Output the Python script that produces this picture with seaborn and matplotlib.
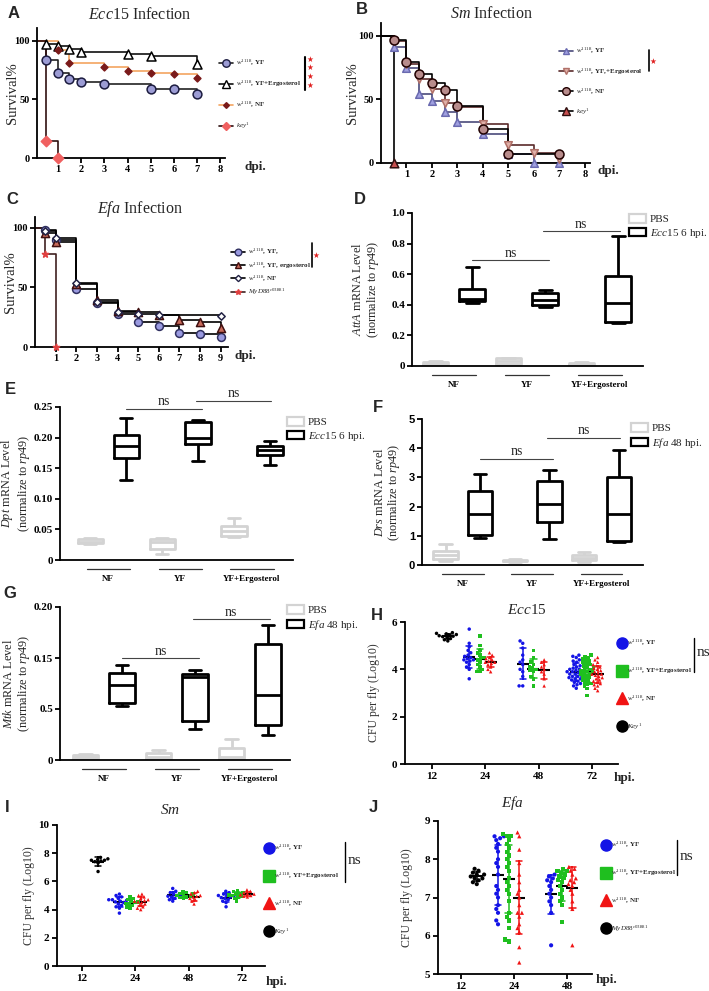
import warnings
import pandas as pd
import matplotlib
matplotlib.use("Agg")
import matplotlib.pyplot as plt
import matplotlib.transforms as mtransforms
from matplotlib.lines import Line2D
from matplotlib.patches import Patch
import seaborn as sns

warnings.filterwarnings("ignore")

# ---------------- survival curves: days post infection, % alive ----------------
A_yf_days = [0, 0.5, 1, 1.5, 2, 3, 5, 6, 7]
A_yf = [100, 84, 72.5, 67.5, 65, 63.5, 59, 58.5, 54.5]
A_yfe_days = [0, 0.5, 1, 1.5, 2, 4, 5, 7]
A_yfe = [100, 97, 95.7, 93, 90.6, 89.2, 87, 80]
A_nf_days = [0, 1, 1.5, 3, 4, 5, 6, 7]
A_nf = [100, 92, 81.5, 78, 74.6, 73, 71.5, 68]
A_key_days = [0, 0.5, 1]
A_key = [100, 14.5, 0]

B_yf_days = [0, 0.5, 1, 1.5, 2, 2.5, 3, 4, 5, 6, 7]
B_yf = [100, 91, 75, 54, 49, 40, 32, 23, 7, 0, 0]
B_yfe_days = [0, 0.5, 1, 1.5, 2, 2.5, 3, 4, 5, 6, 7]
B_yfe = [100, 96, 78, 66, 58, 47, 44, 31, 14, 8, 3]
B_nf_days = [0, 0.5, 1, 1.5, 2, 2.5, 3, 4, 5, 7]
B_nf = [100, 97, 79, 70, 63, 57, 45, 27, 7, 7]
B_key_days = [0, 0.5]
B_key = [100, 0]

C_yf_days = [0, 0.5, 1, 2, 3, 4, 5, 6, 7, 8, 9]
C_yf = [100, 98, 90, 49, 37, 28, 21, 18, 12, 11, 8]
C_yfe_days = [0, 0.5, 1, 2, 3, 4, 5, 6, 7, 8, 9]
C_yfe = [100, 96, 88, 53, 39, 30, 29, 27, 23, 21, 16]
C_nf_days = [0, 0.5, 1, 2, 3, 4, 5, 6, 9]
C_nf = [100, 97, 91, 54, 38, 29, 28, 27, 26]
C_myd_days = [0, 0.5, 1]
C_myd = [100, 78, 0]

# ---------------- qPCR boxes: [min, q1, median, q3, max] per diet ----------------
DIETS = ["NF", "YF", "YF+Ergosterol"]
D_pbs = [[0.0, 0.005, 0.015, 0.025, 0.03], [0.005, 0.01, 0.03, 0.05, 0.055], [0.0, 0.005, 0.01, 0.02, 0.025]]
D_inf = [[0.415, 0.425, 0.435, 0.505, 0.645], [0.385, 0.40, 0.43, 0.475, 0.495], [0.28, 0.285, 0.415, 0.585, 0.85]]
E_pbs = [[0.026, 0.027, 0.030, 0.034, 0.036], [0.010, 0.018, 0.030, 0.034, 0.036], [0.038, 0.040, 0.048, 0.055, 0.068]]
E_inf = [[0.131, 0.167, 0.187, 0.205, 0.232], [0.162, 0.189, 0.200, 0.225, 0.229], [0.155, 0.172, 0.179, 0.187, 0.194]]
F_pbs = [[0.14, 0.19, 0.33, 0.48, 0.73], [0.10, 0.12, 0.15, 0.18, 0.20], [0.10, 0.16, 0.24, 0.33, 0.44]]
F_inf = [[0.92, 1.03, 1.75, 2.52, 3.10], [0.89, 1.46, 2.10, 2.88, 3.25], [0.78, 0.83, 1.74, 3.02, 3.95]]
G_pbs = [[0.0, 0.001, 0.004, 0.007, 0.008], [0.0, 0.001, 0.004, 0.0095, 0.013], [0.0, 0.001, 0.004, 0.016, 0.027]]
G_inf = [[0.070, 0.074, 0.098, 0.114, 0.124], [0.041, 0.051, 0.108, 0.113, 0.118], [0.033, 0.046, 0.085, 0.152, 0.177]]
G_yticks = [0, 0.0667, 0.1333, 0.20]
G_yticklabels = ["0", "0.5", "0.15", "0.20"]

# ---------------- CFU per fly (log10) ----------------
H_times = ["12", "24", "48", "72"]
H_key = [5.55, 5.52, 5.5, 5.47, 5.45, 5.42, 5.4, 5.38, 5.35, 5.3, 5.25, 5.2]
H_yf = [[5.7, 5.1, 4.95, 4.8, 4.7, 4.6, 4.55, 4.5, 4.45, 4.4, 4.4, 4.35, 4.3, 4.2, 4.1, 4.0, 3.6],
        [5.2, 5.1, 4.9, 4.6, 4.4, 4.3, 4.2, 4.0, 3.9, 3.7, 3.3, 3.3],
        [4.6, 4.55, 4.5, 4.4, 4.35, 4.3, 4.2, 4.15, 4.1, 4.05, 4.0, 4.0, 3.95, 3.9, 3.9, 3.85,
         3.85, 3.8, 3.8, 3.75, 3.7, 3.7, 3.65, 3.6, 3.6, 3.55, 3.5, 3.45, 3.4, 3.35, 3.3, 3.2]]
H_yfe = [[5.4, 5.0, 4.8, 4.7, 4.6, 4.5, 4.45, 4.4, 4.3, 4.2, 4.1, 4.0, 3.9, 3.9],
         [4.8, 4.5, 4.3, 4.2, 4.1, 4.05, 4.0, 3.95, 3.9, 3.7, 3.6, 3.3],
         [4.6, 4.55, 4.5, 4.45, 4.4, 4.35, 4.3, 4.25, 4.2, 4.15, 4.1, 4.05, 4.0, 4.0, 3.95, 3.9,
          3.9, 3.85, 3.8, 3.8, 3.75, 3.7, 3.65, 3.6, 3.55, 3.5, 3.45, 3.4, 3.35, 3.3, 3.2, 2.9]]
H_nf = [[4.7, 4.6, 4.5, 4.45, 4.4, 4.35, 4.3, 4.3, 4.25, 4.2, 4.1, 4.0, 3.9],
        [4.4, 4.3, 4.2, 4.1, 4.0, 3.9, 3.8, 3.6, 3.3],
        [4.5, 4.4, 4.3, 4.2, 4.15, 4.1, 4.05, 4.0, 3.95, 3.9, 3.85, 3.8, 3.8, 3.75, 3.7, 3.65,
         3.6, 3.55, 3.5, 3.45, 3.4, 3.35, 3.3, 3.2, 3.1]]

I_times = ["12", "24", "48", "72"]
I_key = [7.7, 7.6, 7.55, 7.5, 7.5, 7.45, 7.4, 7.3, 6.7]
I_yf = [[5.1, 5.0, 4.9, 4.8, 4.7, 4.7, 4.65, 4.6, 4.55, 4.5, 4.4, 4.3, 4.2, 4.1, 3.75],
        [5.5, 5.3, 5.2, 5.1, 5.05, 5.0, 4.95, 4.9, 4.8, 4.7, 4.6],
        [5.3, 5.2, 5.1, 5.0, 5.0, 4.95, 4.9, 4.85, 4.8, 4.7, 4.6, 4.5, 4.2]]
I_yfe = [[4.9, 4.8, 4.7, 4.6, 4.55, 4.5, 4.45, 4.4, 4.3, 4.2, 4.1],
         [5.3, 5.2, 5.15, 5.1, 5.05, 5.0, 4.95, 4.9, 4.85, 4.8],
         [5.35, 5.3, 5.2, 5.15, 5.1, 5.05, 5.0, 4.95, 4.9, 4.8, 4.6]]
I_nf = [[5.1, 5.0, 4.9, 4.8, 4.7, 4.65, 4.6, 4.55, 4.5, 4.4, 4.3, 4.2, 4.1, 4.0],
        [5.3, 5.2, 5.1, 5.0, 4.95, 4.9, 4.8, 4.7, 4.6, 4.4],
        [5.4, 5.3, 5.2, 5.15, 5.1, 5.05, 5.0, 4.95, 4.9]]

J_times = ["12", "24", "48"]
J_myd = [7.75, 7.7, 7.65, 7.6, 7.6, 7.55, 7.5, 7.5, 7.45, 7.4, 7.35]
J_yf = [[8.6, 8.6, 8.55, 8.5, 8.4, 8.3, 8.2, 8.0, 7.9, 7.8, 7.6, 7.3, 7.2, 7.1, 7.0, 6.8, 6.7, 6.6, 6.4, 6.3],
        [7.6, 7.55, 7.5, 7.45, 7.4, 7.3, 7.2, 7.1, 7.0, 6.9, 6.8, 6.6, 5.75]]
J_yfe = [[8.65, 8.6, 8.6, 8.5, 8.4, 8.3, 8.2, 8.1, 8.0, 7.9, 7.8, 7.7, 7.5, 7.4, 7.3, 7.2, 7.1, 6.9,
          6.6, 6.5, 6.4, 6.2, 5.9, 5.85],
         [7.75, 7.7, 7.7, 7.65, 7.6, 7.55, 7.5, 7.45, 7.4, 7.3, 7.2, 7.1, 7.0, 6.9, 6.8, 6.35]]
J_nf = [[8.7, 8.6, 8.25, 7.9, 7.6, 7.4, 7.2, 7.1, 7.0, 6.8, 6.6, 6.6, 6.5, 6.3, 6.2, 6.1, 5.7, 5.3],
        [7.8, 7.75, 7.7, 7.6, 7.5, 7.45, 7.4, 7.35, 7.3, 7.2, 7.1, 6.9, 6.7, 5.75]]

# ---------------- style ----------------
sns.set_theme(style="ticks")
plt.rcParams.update({
    "font.family": ["Liberation Serif", "DejaVu Sans"],
    "mathtext.fontset": "custom",
    "mathtext.rm": "Liberation Serif",
    "mathtext.it": "Liberation Serif:italic",
    "mathtext.bf": "Liberation Serif:bold",
    "axes.linewidth": 1.3,
    "axes.edgecolor": "black",
    "xtick.color": "black",
    "ytick.color": "black",
    "xtick.major.width": 1.3,
    "ytick.major.width": 1.3,
    "xtick.major.size": 3.5,
    "ytick.major.size": 3.5,
})

W, H = 709, 991
fig = plt.figure(figsize=(W / 100, H / 100), dpi=100)


def box(l, t, r, b):
    return [l / W, 1 - b / H, (r - l) / W, (b - t) / H]


def ftext(x, y, s, **kw):
    kw.setdefault("ha", "center")
    kw.setdefault("va", "center")
    fig.text(x / W, 1 - y / H, s, **kw)


def fline(xs, ys, **kw):
    fig.add_artist(Line2D([x / W for x in xs], [1 - y / H for y in ys], **kw))


W1118 = r"$w^{1118}$"

# ---------------- survival panels ----------------
def survival(ax, curves, xlim, ylim, xticks, label_x):
    for days, pct, st in curves:
        sns.lineplot(x=days, y=pct, ax=ax, color=st["line"], linewidth=1.2,
                     drawstyle="steps-post", estimator=None, legend=False)
        sns.scatterplot(x=days[1:], y=pct[1:], ax=ax, marker=st["m"], s=st["s"],
                        color=st["fc"], edgecolor=st["ec"], linewidth=1.1,
                        zorder=4, clip_on=False, legend=False)
    ax.set_xlim(*xlim)
    ax.set_ylim(*ylim)
    ax.set_xticks(xticks, [str(t) for t in xticks], fontweight="bold", fontsize=7.5)
    ax.set_yticks([0, 50, 100], ["0", "50", "100"], fontweight="bold", fontsize=7.5)
    ax.set_xlabel("")
    ax.set_ylabel("Survival%", fontsize=10.5)
    ax.yaxis.set_label_coords(label_x, 0.5)
    ax.tick_params(pad=1.5)
    sns.despine(ax=ax)


def surv_legend(curves, labels, x, y, spacing):
    handles = [Line2D([], [], color=st["line"], lw=1.2, marker=st["m"],
                      markersize=st["s"] ** 0.5 * 0.85, markerfacecolor=st["fc"],
                      markeredgecolor=st["ec"]) for _, _, st in curves]
    fig.legend(handles, labels, loc="upper left", bbox_to_anchor=(x / W, 1 - y / H),
               frameon=False, prop={"size": 5, "weight": "bold"}, handlelength=2.0,
               handletextpad=0.4, labelspacing=spacing, borderpad=0, borderaxespad=0)


def stars(x, y, n):
    ftext(x, y, "\n".join(["★"] * n), color="#e02020", fontsize=5.5,
          family="DejaVu Sans", linespacing=0.95)


# A
axA = fig.add_axes(box(37, 28, 225, 158))
A_curves = [
    (A_yf_days, A_yf, dict(line="#222222", m="o", s=40, fc="#9c9cd4", ec="#1c1c40")),
    (A_yfe_days, A_yfe, dict(line="#111111", m="^", s=42, fc="white", ec="black")),
    (A_nf_days, A_nf, dict(line="#f4a460", m="D", s=12, fc="#7a1a1a", ec="#7a1a1a")),
    (A_key_days, A_key, dict(line="#301010", m="D", s=28, fc="#f06060", ec="#f06060")),
]
survival(axA, A_curves, (0.1, 8.2), (0, 111), list(range(1, 9)), -0.096)
surv_legend(A_curves, [W1118 + ", YF", W1118 + ", YF+Ergosterol", W1118 + ", NF",
                       r"$\mathit{key}^{1}$"], 219, 58, 1.55)
fline([305, 305], [57, 90], color="black", lw=1.5)
stars(310, 72, 4)
ftext(140, 15, r"$\mathit{Ecc15}$ Infection", fontsize=11.5)
ftext(255, 167, "dpi.", fontsize=9.5, fontweight="bold")

# B
axB = fig.add_axes(box(381, 23, 590, 163))
B_curves = [
    (B_yf_days, B_yf, dict(line="#4a4a7a", m="^", s=30, fc="#a0a0e0", ec="#6a6ab0")),
    (B_yfe_days, B_yfe, dict(line="#5a2a2a", m="v", s=30, fc="#e0b0a8", ec="#b07068")),
    (B_nf_days, B_nf, dict(line="black", m="o", s=42, fc="#b88c8c", ec="#200000")),
    (B_key_days, B_key, dict(line="black", m="^", s=38, fc="#c85050", ec="#301010")),
]
survival(axB, B_curves, (0, 8.2), (0, 110), list(range(1, 9)), -0.105)
surv_legend(B_curves, [W1118 + ", YF", W1118 + ", YF,+Ergosterol", W1118 + ", NF",
                       r"$\mathit{key}^{1}$"], 559, 46, 1.45)
fline([649, 649], [50, 71], color="black", lw=1.2)
stars(653, 61, 1)
ftext(492, 14, r"$\mathit{Sm}$ Infection", fontsize=11.5)
ftext(608, 171, "dpi.", fontsize=9.5, fontweight="bold")

# C
axC = fig.add_axes(box(35, 217, 228, 347))
C_curves = [
    (C_yf_days, C_yf, dict(line="black", m="o", s=32, fc="#9a9ae0", ec="#303060")),
    (C_yfe_days, C_yfe, dict(line="black", m="^", s=34, fc="#c86a5a", ec="#401010")),
    (C_nf_days, C_nf, dict(line="black", m="D", s=14, fc="white", ec="#222244")),
    (C_myd_days, C_myd, dict(line="#402020", m="*", s=22, fc="#e04040", ec="#e04040")),
]
survival(axC, C_curves, (0, 9.35), (0, 109), list(range(1, 10)), -0.095)
surv_legend(C_curves, [W1118 + ", YF,", W1118 + ", YF, ergosterol", W1118 + ", NF",
                       r"$\mathit{MyD88}^{c03881}$"], 231, 247, 0.45)
fline([312, 312], [243, 267], color="black", lw=1.2)
stars(316, 255, 1)
ftext(140, 209, r"$\mathit{Efa}$ Infection", fontsize=11.5)
ftext(245, 356, "dpi.", fontsize=9.5, fontweight="bold")

# ---------------- qPCR box panels ----------------
PBS_C = "#d3d3d3"


def boxpanel(ax, pbs, inf, xlim, ylim, yticks, yticklabels, ns_y, ylabel, label_x,
             tickfam="Liberation Serif"):
    rows = []
    for d, p, q in zip(DIETS, pbs, inf):
        rows += [(d, "PBS", v) for v in p] + [(d, "Infected", v) for v in q]
    df = pd.DataFrame(rows, columns=["diet", "treat", "level"])
    sns.boxplot(data=df, x="diet", y="level", hue="treat", order=DIETS,
                hue_order=["PBS", "Infected"], palette=[PBS_C, "black"], fill=False,
                width=1.0, gap=0.3, whis=(0, 100), linewidth=2.0, legend=False, ax=ax)
    ax.set_xlim(*xlim)
    ax.set_ylim(*ylim)
    ax.set_yticks(yticks, yticklabels, fontweight="bold", fontsize=8, family=tickfam)
    ax.set_xticks(range(3), DIETS, fontweight="bold", fontsize=6.5)
    ax.tick_params(axis="x", length=0, pad=11)
    ax.tick_params(axis="y", pad=1.5)
    ax.set_xlabel("")
    ax.set_ylabel(ylabel, fontsize=8.8, linespacing=1.05)
    ax.yaxis.set_label_coords(label_x, 0.5)
    sns.despine(ax=ax)
    trans = mtransforms.blended_transform_factory(ax.transData, ax.transAxes)
    for i in range(3):
        ax.plot([i - 0.3, i + 0.3], [-0.06, -0.06], transform=trans, color="#333333",
                lw=0.9, clip_on=False)
    for (x0, x1), y in zip([(0.25, 1.3), (1.22, 2.27)], ns_y):
        ax.plot([x0, x1], [y, y], color="#444444", lw=0.8, clip_on=False)
        ax.annotate("ns", xy=((x0 + x1) / 2, y), xytext=(0, 0.5), textcoords="offset points",
                    ha="center", va="bottom", fontsize=10, annotation_clip=False)


def box_legend(label, x, y):
    handles = [Patch(facecolor="white", edgecolor=PBS_C, linewidth=1.6),
               Patch(facecolor="white", edgecolor="black", linewidth=1.6)]
    fig.legend(handles, ["PBS", label], loc="upper left", bbox_to_anchor=(x / W, 1 - y / H),
               frameon=False, fontsize=8, handlelength=1.5, handleheight=0.8,
               handletextpad=0.4, labelspacing=0.25, borderpad=0, borderaxespad=0)


def ylab(gene):
    return r"$\mathit{" + gene + r"}$ mRNA Level" + "\n" + r"(normalize to $\mathit{rp49)}$"


axD = fig.add_axes(box(412, 213, 643, 366))
boxpanel(axD, D_pbs, D_inf, (-0.575, 2.59), (0, 1.0), [0, 0.2, 0.4, 0.6, 0.8, 1.0],
         ["0", "0.2", "0.4", "0.6", "0.8", "1.0"], (0.69, 0.88), ylab("AttA"), -0.135)
box_legend(r"$\mathit{Ecc15}$ 6 hpi.", 629, 214)

axE = fig.add_axes(box(60, 407, 293, 560))
boxpanel(axE, E_pbs, E_inf, (-0.67, 2.57), (0, 0.25), [0, 0.05, 0.10, 0.15, 0.20, 0.25],
         ["0", "0.05", "0.10", "0.15", "0.20", "0.25"], (0.247, 0.26), ylab("Dpt"), -0.12)
box_legend(r"$\mathit{Ecc15}$ 6 hpi.", 287, 417)

axF = fig.add_axes(box(422, 419, 643, 565))
boxpanel(axF, F_pbs, F_inf, (-0.59, 2.6), (0, 5), [0, 1, 2, 3, 4, 5],
         ["0", "1", "2", "3", "4", "5"], (3.63, 4.35), ylab("Drs"), -0.09,
         tickfam="Liberation Sans")
box_legend(r"$\mathit{Efa}$ 48 hpi.", 631, 423)

axG = fig.add_axes(box(60, 607, 290, 760))
boxpanel(axG, G_pbs, G_inf, (-0.6, 2.55), (0, 0.20), G_yticks, G_yticklabels,
         (0.133, 0.184), ylab("Mtk"), -0.122)
box_legend(r"$\mathit{Efa}$ 48 hpi.", 287, 605)

# ---------------- CFU panels ----------------
CFU_ORDER = ["yf", "yfe", "nf", "key"]
CFU_PAL = {"yf": "#1414e6", "yfe": "#1fbf1f", "nf": "#f01414", "key": "black"}
CFU_MARK = {"yf": "o", "yfe": "s", "nf": "^", "key": "o"}
BLACK = {k: "black" for k in CFU_ORDER}


def cfu(ax, times, key_vals, yf, yfe, nf, xlim, ylim, yticks, size, label_x):
    rows = [(times[0], "key", v) for v in key_vals]
    for t, a, b, c in zip(times[1:], yf, yfe, nf):
        rows += [(t, "yf", v) for v in a] + [(t, "yfe", v) for v in b] + [(t, "nf", v) for v in c]
    df = pd.DataFrame(rows, columns=["time", "group", "cfu"])
    for g in CFU_ORDER:
        sns.swarmplot(data=df[df["group"] == g], x="time", y="cfu", hue="group", order=times,
                      hue_order=CFU_ORDER, palette=CFU_PAL, dodge=True, marker=CFU_MARK[g],
                      size=size, linewidth=0, legend=False, ax=ax)
    sns.pointplot(data=df, x="time", y="cfu", hue="group", order=times, hue_order=CFU_ORDER,
                  palette=CFU_PAL, dodge=0.6, errorbar="sd", capsize=0.12, markers="",
                  linestyles="none", err_kws={"linewidth": 1.1}, legend=False, ax=ax)
    sns.pointplot(data=df, x="time", y="cfu", hue="group", order=times, hue_order=CFU_ORDER,
                  palette=BLACK, dodge=0.6, errorbar=None, markers="_", markersize=8,
                  markeredgewidth=1.5, linestyles="none", legend=False, ax=ax)
    ax.set_xlim(*xlim)
    ax.set_ylim(*ylim)
    ax.set_yticks(yticks, [str(t) for t in yticks], fontweight="bold", fontsize=8)
    ax.set_xticks(range(len(times)), times, fontweight="bold", fontsize=8)
    ax.set_xlabel("")
    ax.set_ylabel("CFU per fly (Log10)", fontsize=8.5, color="#333333")
    ax.yaxis.set_label_coords(label_x, 0.5)
    ax.tick_params(pad=2)
    sns.despine(ax=ax)


def cfu_legend(key_label, x, y):
    handles = [Line2D([], [], ls="none", marker=CFU_MARK[g], color=CFU_PAL[g], markersize=8)
               for g in CFU_ORDER]
    labels = [W1118 + ", YF", W1118 + ", YF+Ergosterol", W1118 + ", NF", key_label]
    fig.legend(handles, labels, loc="upper left", bbox_to_anchor=(x / W, 1 - y / H),
               frameon=False, prop={"size": 5, "weight": "bold"}, handlelength=1.3,
               handletextpad=0.15, labelspacing=2.55, borderpad=0, borderaxespad=0)


axH = fig.add_axes(box(405, 622, 618, 764))
cfu(axH, H_times, H_key, H_yf, H_yfe, H_nf, (-0.5, 3.48), (0, 6), [0, 2, 4, 6], 2.5, -0.117)
cfu_legend(r"$\mathit{Key}^{1}$", 617, 638)
fline([694, 694], [638, 672], color="black", lw=1.0)
ftext(697, 652, "ns", fontsize=11, ha="left")
ftext(527, 610, r"$\mathit{Ecc15}$", fontsize=11)
ftext(624, 778, "hpi.", fontsize=9.5, fontweight="bold")

axI = fig.add_axes(box(57, 825, 265, 966))
cfu(axI, I_times, I_key, I_yf, I_yfe, I_nf, (-0.47, 3.43), (0, 10), [0, 2, 4, 6, 8, 10],
    2.5, -0.106)
cfu_legend(r"$\mathit{Key}^{1}$", 264, 843)
fline([345, 345], [842, 882], color="black", lw=1.0)
ftext(348, 860, "ns", fontsize=11, ha="left")
ftext(170, 810, r"$\mathit{Sm}$", fontsize=11)
ftext(277, 982, "hpi.", fontsize=9.5, fontweight="bold")

axJ = fig.add_axes(box(438, 821, 592, 974))
cfu(axJ, J_times, J_myd, J_yf, J_yfe, J_nf, (-0.43, 2.47), (5, 9), [5, 6, 7, 8, 9],
    3.0, -0.162)
cfu_legend(r"$\mathit{MyD88}^{c03881}$", 601, 840)
fline([677, 677], [840, 875], color="black", lw=1.0)
ftext(680, 857, "ns", fontsize=11, ha="left")
ftext(512, 803, r"$\mathit{Efa}$", fontsize=11)
ftext(607, 980, "hpi.", fontsize=9.5, fontweight="bold")

# ---------------- panel letters ----------------
for letter, x, y in [("A", 14, 14), ("B", 362, 10), ("C", 12, 200), ("D", 360, 200),
                     ("E", 10, 390), ("F", 378, 407), ("G", 10, 593), ("H", 377, 615),
                     ("I", 7, 807), ("J", 373, 807)]:
    ftext(x, y, letter, fontsize=12, fontweight="bold", family="Liberation Sans")

fig.savefig("out.png", dpi=100)
